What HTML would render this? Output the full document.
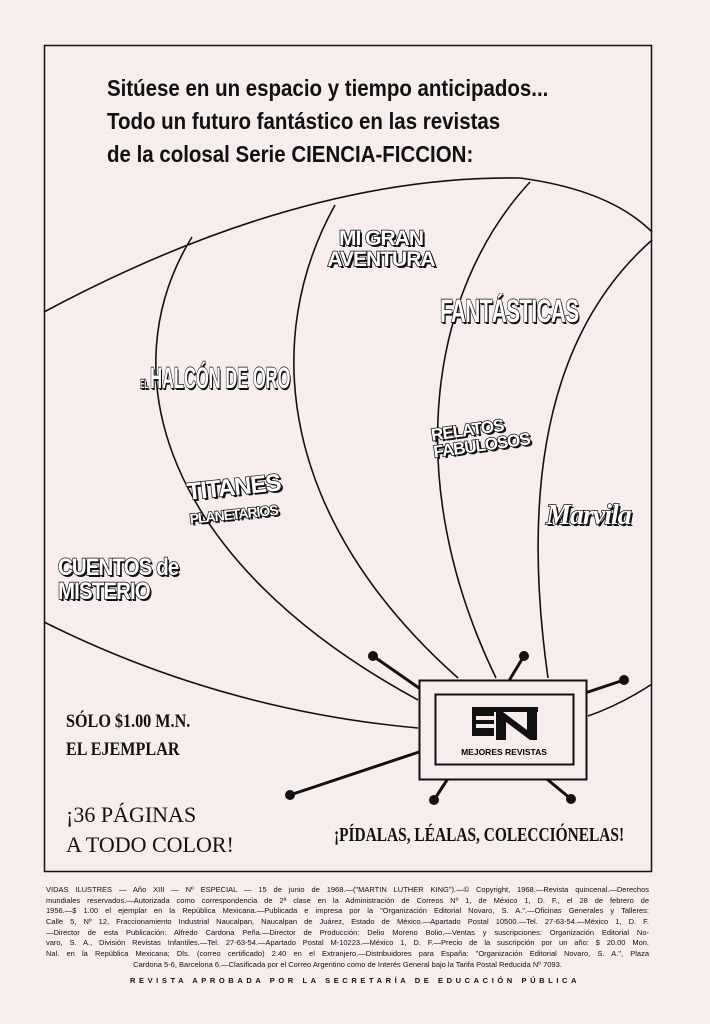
<!DOCTYPE html><html><head><meta charset="utf-8"><style>
body{margin:0;background:#f8eded;}
#p{position:relative;width:710px;height:1024px;background:#f8eded;overflow:hidden;font-family:"Liberation Sans",sans-serif;color:#111}
.t{position:absolute;font-family:"Liberation Sans Narrow","Liberation Sans",sans-serif;font-weight:bold}
.logo{position:absolute;font-family:"Liberation Sans",sans-serif;font-weight:900;color:#fff;-webkit-text-stroke:1.5px #111;paint-order:stroke;text-shadow:2px 2px 0 #111;letter-spacing:-1px;line-height:1;white-space:nowrap}
.ft{position:absolute;left:46px;width:603px;font-size:7.5px;line-height:10.7px}
.ft div{height:10.7px;text-align:justify;text-align-last:justify;white-space:nowrap;overflow:hidden}
</style></head><body><div id="p">
<svg width="710" height="1024" style="position:absolute;left:0;top:0">
<rect x="44.5" y="45.5" width="607" height="826" fill="none" stroke="#111" stroke-width="1.5"/>
<g fill="none" stroke="#111" stroke-width="1.6">
<path d="M44 312 Q300 175 520 178 Q610 190 652 232"/>
<path d="M44 622 Q220 710 418 728"/>
<path d="M192 237 C110 370, 160 560, 418 700"/>
<path d="M335 205 C260 340, 280 520, 458 678"/>
<path d="M530 182 C430 290, 400 480, 496 678"/>
<path d="M652 240 C550 330, 520 480, 548 678"/>
<path d="M652 684 Q620 705 588 716"/>
</g>
<g stroke="#111" stroke-width="3" stroke-linecap="round">
<line x1="373" y1="656" x2="419" y2="688"/><line x1="524" y1="656" x2="510" y2="679"/>
<line x1="624" y1="680" x2="588" y2="692"/><line x1="290" y1="795" x2="419" y2="752"/>
<line x1="434" y1="800" x2="447" y2="780"/><line x1="571" y1="799" x2="548" y2="780"/>
</g>
<g fill="#111"><circle cx="373" cy="656" r="5"/><circle cx="524" cy="656" r="5"/><circle cx="624" cy="680" r="5"/><circle cx="290" cy="795" r="5"/><circle cx="434" cy="800" r="5"/><circle cx="571" cy="799" r="5"/></g>
<rect x="419.5" y="680.5" width="167" height="99" fill="#f8eded" stroke="#111" stroke-width="2"/>
<rect x="435.5" y="694.5" width="138" height="70" fill="none" stroke="#111" stroke-width="2"/>
<rect x="472" y="707" width="66" height="5" fill="#111"/>
<rect x="472" y="712" width="22" height="24" fill="#111"/>
<rect x="476" y="716" width="18" height="4" fill="#f8eded"/><rect x="476" y="724" width="18" height="4" fill="#f8eded"/>
<path d="M496 712 L503 712 L527 730 L527 712 L537 712 L537 740 L530 740 L506 722 L506 740 L496 740Z" fill="#111"/>
<text x="504" y="755" font-size="8.5" font-weight="bold" text-anchor="middle" font-family="Liberation Sans">MEJORES  REVISTAS</text>
</svg>
<div class="t" style="left:107px;top:72px;font-size:23px;line-height:33px;transform:scaleX(0.89);transform-origin:0 0;white-space:nowrap">Sitúese en un espacio y tiempo anticipados...<br>Todo un futuro fantástico en las revistas<br>de la colosal Serie CIENCIA-FICCION:</div>
<div class="logo" style="left:322px;top:228px;font-size:21px;text-align:center;width:118px">MI GRAN<br>AVENTURA</div>
<div class="logo" style="left:440px;top:295px;font-size:32px;transform:scaleX(0.65);transform-origin:0 0">FANTÁSTICAS</div>
<div class="logo" style="left:140px;top:364px;font-size:30px;transform:scaleX(0.55);transform-origin:0 0;letter-spacing:0"><span style="font-size:12px">EL </span>HALCÓN DE ORO</div>
<div class="logo" style="left:432px;top:420px;font-size:17px;transform:rotate(-8deg)">RELATOS<br>FABULOSOS</div>
<div class="logo" style="left:188px;top:476px;font-size:24px;transform:rotate(-6deg)">TITANES<br><span style="font-size:14px">PLANETARIOS</span></div>
<div class="logo" style="left:546px;top:502px;font-size:28px;font-style:italic;font-family:'Liberation Serif',serif">Marvila</div>
<div class="logo" style="left:58px;top:556px;font-size:24px;transform:scaleX(0.85);transform-origin:0 0">CUENTOS de<br>MISTERIO</div>
<div class="t" style="left:66px;top:708px;font-size:19px;line-height:28px;font-family:'Liberation Serif',serif;transform:scaleX(0.85);transform-origin:0 0;white-space:nowrap">SÓLO $1.00 M.N.<br>EL EJEMPLAR</div>
<div style="position:absolute;left:66px;top:800px;font-size:22px;line-height:30px;font-family:'Liberation Serif',serif">¡36 PÁGINAS<br>A TODO COLOR!</div>
<div class="t" style="left:334px;top:824px;font-size:20px;font-family:'Liberation Serif',serif;transform:scaleX(0.77);transform-origin:0 0;white-space:nowrap">¡PÍDALAS, LÉALAS, COLECCIÓNELAS!</div>
<div class="ft" style="top:885px">
<div>VIDAS ILUSTRES — Año XIII — Nº ESPECIAL — 15 de junio de 1968.—("MARTIN LUTHER KING").—© Copyright, 1968.—Revista quincenal.—Derechos</div>
<div>mundiales reservados.—Autorizada como correspondencia de 2ª clase en la Administración de Correos Nº 1, de México 1, D. F., el 28 de febrero de</div>
<div>1956.—$ 1.00 el ejemplar en la República Mexicana.—Publicada e impresa por la "Organización Editorial Novaro, S. A.".—Oficinas Generales y Talleres:</div>
<div>Calle 5, Nº 12, Fraccionamiento Industrial Naucalpan, Naucalpan de Juárez, Estado de México.—Apartado Postal 10500.—Tel. 27-63-54.—México 1, D. F.</div>
<div>—Director de esta Publicación: Alfredo Cardona Peña.—Director de Producción: Delio Moreno Bolio.—Ventas y suscripciones: Organización Editorial No-</div>
<div>varo, S. A., División Revistas Infantiles.—Tel. 27-63-54.—Apartado Postal M-10223.—México 1, D. F.—Precio de la suscripción por un año: $ 20.00 Mon.</div>
<div>Nal. en la República Mexicana; Dls. (correo certificado) 2.40 en el Extranjero.—Distribuidores para España: "Organización Editorial Novaro, S. A.", Plaza</div>
<div style="text-align:center;text-align-last:center">Cardona 5-6, Barcelona 6.—Clasificada por el Correo Argentino como de Interés General bajo la Tarifa Postal Reducida Nº 7093.</div>
</div>
<div style="position:absolute;left:0;width:710px;top:976px;text-align:center;font-size:7.5px;font-weight:bold;letter-spacing:3.6px">REVISTA APROBADA POR LA SECRETARÍA DE EDUCACIÓN PÚBLICA</div>
</div></body></html>
